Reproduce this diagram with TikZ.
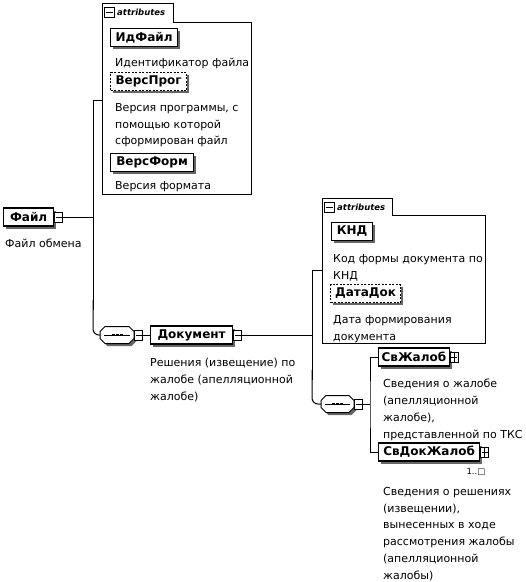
\documentclass[tikz,border=0pt]{standalone}
\usepackage{fontspec}
\setmainfont{DejaVu Sans}
\usetikzlibrary{shadows}
\begin{document}
\begin{tikzpicture}[x=1pt,y=-1pt,
 shd/.style={general shadow={fill=black!60, shadow xshift=2.5pt, shadow yshift=-2.5pt}},
 el/.style={draw, line width=1.2pt, fill=white, shd, font=\fontsize{12}{14}\selectfont\bfseries, inner xsep=3pt, inner ysep=0pt, minimum height=18pt, anchor=west},
 optel/.style={el, dash pattern=on 2pt off 1.5pt},
 expbox/.style={draw, line width=0.8pt, fill=white, inner sep=0pt, minimum width=8pt, minimum height=10pt, anchor=west},
 sign/.style={line width=0.8pt},
 desc/.style={anchor=north west, inner sep=0pt, align=left, font=\fontsize{11}{16.8}\selectfont},
 wire/.style={line width=1pt},
 seqanchor/.style={rectangle, draw=none, minimum width=34pt, minimum height=17pt, inner sep=0pt, anchor=west},
 octline/.style={line width=1pt, fill=white},
 octshadow/.style={fill=black!60},
 attframe/.style={line width=1pt},
 atttitle/.style={anchor=west, inner sep=0pt, font=\fontsize{8.5}{9}\selectfont\bfseries\itshape},
]
\useasboundingbox (0,0) rectangle (526,582);

% ---------- attributes box 1 ----------
\draw[attframe] (102,3) -- (173,3) -- (173,22) -- (251,22) -- (251,194) -- (102,194) -- cycle;
\node[expbox, minimum width=10pt, minimum height=10pt] (t1m) at (104,12) {};
\draw[sign] ([xshift=2pt]t1m.west) -- ([xshift=-2pt]t1m.east);
\node[atttitle] (t1t) at (117,12) {attributes};

\node[el, minimum width=67pt] (idf) at (110,37.5) {ИдФайл};
\node[desc] (idfd) at (115,58) {Идентификатор файла};
\node[optel, minimum width=76pt] (vprog) at (110,81.5) {ВерсПрог};
\node[desc] (vprogd) at (115,103) {Версия программы, с\\помощью которой\\сформирован файл};
\node[el, minimum width=83pt] (vform) at (110,162.5) {ВерсФорм};
\node[desc] (vformd) at (115,181) {Версия формата};

% ---------- root ----------
\node[el, minimum width=50pt] (file) at (3,217) {Файл};
\node[expbox] (filem) at (file.east) {};
\draw[sign] ([xshift=1.5pt]filem.west) -- ([xshift=-1.5pt]filem.east);
\node[desc] (filed) at (5,239) {Файл обмена};

\coordinate (a1in) at (102,100);
\coordinate (j1) at (93,217);
\draw[wire] (filem.east) -- (j1);
\draw[wire] (a1in) -| (93,310);

% ---------- sequence 1 ----------
\node[seqanchor] (seq1) at (100,335) {};
\fill[octshadow] (107.5,329) -- (131.5,329) -- (136.5,334) -- (136.5,341) -- (131.5,346) -- (107.5,346) -- (102.5,341) -- (102.5,334) -- cycle;
\draw[octline] (105,326.5) -- (129,326.5) -- (134,331.5) -- (134,338.5) -- (129,343.5) -- (105,343.5) -- (100,338.5) -- (100,331.5) -- cycle;
\draw[line width=0.9pt] ([xshift=4pt]seq1.west) -- ([xshift=-4pt]seq1.east);
\foreach \dx in {-4,0,4} \fill ([xshift=\dx pt]seq1.center) +(-1.4pt,-1.4pt) rectangle +(1.4pt,1.4pt);
\draw[wire, rounded corners=6pt] (93,300) -- (93,335) -- (seq1.west);
\node[expbox] (seq1m) at (seq1.east) {};
\draw[sign] ([xshift=1.5pt]seq1m.west) -- ([xshift=-1.5pt]seq1m.east);

% ---------- Документ ----------
\node[el, minimum width=82pt] (doc) at (150,335) {Документ};
\draw[wire] (seq1m.east) -- (doc.west);
\node[expbox] (docm) at (doc.east) {};
\draw[sign] ([xshift=1.5pt]docm.west) -- ([xshift=-1.5pt]docm.east);
\node[desc] (docd) at (150,358) {Решения (извещение) по\\жалобе (апелляционной\\жалобе)};

\coordinate (j2) at (312,335);
\draw[wire] (docm.east) -- (j2);

% ---------- attributes box 2 ----------
\draw[attframe] (322,198) -- (392,198) -- (392,215) -- (485,215) -- (485,343) -- (322,343) -- cycle;
\node[expbox, minimum width=10pt, minimum height=10pt] (t2m) at (324,207) {};
\draw[sign] ([xshift=2pt]t2m.west) -- ([xshift=-2pt]t2m.east);
\node[atttitle] (t2t) at (337,207) {attributes};

\node[el, minimum width=41pt] (knd) at (331,231.5) {КНД};
\node[desc] (kndd) at (333,254) {Код формы документа по\\КНД};
\node[optel, minimum width=70pt] (dd) at (330,293.5) {ДатаДок};
\node[desc] (ddd) at (333,315) {Дата формирования\\документа};

\coordinate (a2in) at (322,270);
\draw[wire] (a2in) -| (312,380);

% ---------- sequence 2 ----------
\node[seqanchor, minimum width=33pt] (seq2) at (321,404) {};
\fill[octshadow] (328.5,398) -- (351.5,398) -- (356.5,403) -- (356.5,410) -- (351.5,415) -- (328.5,415) -- (323.5,410) -- (323.5,403) -- cycle;
\draw[octline] (326,395.5) -- (349,395.5) -- (354,400.5) -- (354,407.5) -- (349,412.5) -- (326,412.5) -- (321,407.5) -- (321,400.5) -- cycle;
\draw[line width=0.9pt] ([xshift=4pt]seq2.west) -- ([xshift=-4pt]seq2.east);
\foreach \dx in {-4,0,4} \fill ([xshift=\dx pt]seq2.center) +(-1.4pt,-1.4pt) rectangle +(1.4pt,1.4pt);
\draw[wire, rounded corners=6pt] (312,370) -- (312,404) -- (seq2.west);
\node[expbox] (seq2m) at (seq2.east) {};
\draw[sign] ([xshift=1.5pt]seq2m.west) -- ([xshift=-1.5pt]seq2m.east);
\coordinate (j3) at (370,404);
\draw[wire] (seq2m.east) -- (j3);

\node[el, minimum width=70pt] (svz) at (378,357) {СвЖалоб};
\node[expbox] (svzp) at (svz.east) {};
\draw[sign] ([xshift=1.5pt]svzp.west) -- ([xshift=-1.5pt]svzp.east) (svzp.north) -- (svzp.south);
\node[desc] (svzd) at (383,379) {Сведения о жалобе\\(апелляционной\\жалобе),\\представленной по ТКС};

\node[el, minimum width=101pt] (svdz) at (378,452) {СвДокЖалоб};
\node[expbox] (svdzp) at (svdz.east) {};
\draw[sign] ([xshift=1.5pt]svdzp.west) -- ([xshift=-1.5pt]svdzp.east) (svdzp.north) -- (svdzp.south);
\node[anchor=north, inner sep=0pt, font=\fontsize{8.5}{9}\selectfont] (mult) at (476,468) {1..□};
\node[desc] (svdzd) at (383,487) {Сведения о решениях\\(извещении),\\вынесенных в ходе\\рассмотрения жалобы\\(апелляционной\\жалобы)};

\draw[wire] (svz.west) -| (j3) |- (svdz.west);
\end{tikzpicture}
\end{document}
